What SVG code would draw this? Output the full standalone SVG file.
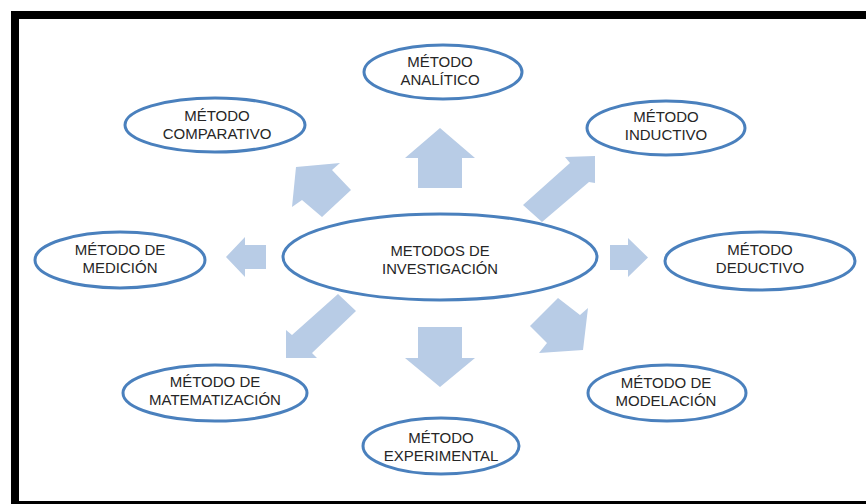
<svg xmlns="http://www.w3.org/2000/svg" width="866" height="504" viewBox="0 0 866 504">
  <style>
    .node ellipse { fill: #ffffff; stroke: #4a80bd; stroke-width: 3; }
    .node text { font-family: "Liberation Sans", Arial, sans-serif; font-size: 15px; fill: #262626; text-anchor: middle; }
    #n-center text { font-size: 14.8px; }
    .frame { fill: #000000; }
    .arrow { fill: #b8cce6; }
  </style>

  <rect width="866" height="504" fill="#ffffff"/>

  <!-- black frame -->
  <rect class="frame" x="11" y="11" width="855" height="8"/>
  <rect class="frame" x="11" y="11" width="8" height="493"/>
  <rect class="frame" x="11" y="501" width="855" height="3"/>

  <g id="connectors" class="arrow">
    <!-- up: analítico -->
    <path d="M418,188 V158 H405 L440,128 L475,158 H462 V188 Z"/>
    <!-- up-left: comparativo -->
    <path d="M351,190 L332,170 L340,163 L296,167 L292,207 L302,200 L322,217 Z"/>
    <!-- up-right: inductivo -->
    <path d="M523,205 L570,163 L565,157 L595,156 L595,183 L589,182 L542,222 Z"/>
    <!-- right: deductivo -->
    <path d="M610,245 H628 V238 L648,257.5 L628,277 V270 H610 Z"/>
    <!-- left: medición -->
    <path d="M266,245 H245 V237 L226,257 L245,277 V269 H266 Z"/>
    <!-- down-left: matematización -->
    <path d="M338,294 L356,311 L312,353 L317,358 L286,358 L286,330 L292,335 Z"/>
    <!-- down: experimental -->
    <path d="M418,327 H462 V358 H475 L440,387 L405,358 H418 Z"/>
    <!-- down-right: modelación -->
    <path d="M558,298 L580,315 L588,308 L583,350 L539,353 L547,343 L530,326 Z"/>
  </g>

  <g id="n-center" class="node">
    <ellipse cx="440" cy="257" rx="157" ry="43"/>
    <text x="440" y="256">METODOS DE</text>
    <text x="440" y="274">INVESTIGACIÓN</text>
  </g>

  <g id="n-analitico" class="node">
    <ellipse cx="443" cy="72" rx="79" ry="27"/>
    <text x="440" y="67">MÉTODO</text>
    <text x="440" y="85">ANALÍTICO</text>
  </g>

  <g id="n-comparativo" class="node">
    <ellipse cx="215" cy="125" rx="90" ry="27"/>
    <text x="217" y="121">MÉTODO</text>
    <text x="217" y="139">COMPARATIVO</text>
  </g>

  <g id="n-inductivo" class="node">
    <ellipse cx="666" cy="128" rx="79" ry="27"/>
    <text x="666" y="122">MÉTODO</text>
    <text x="666" y="140">INDUCTIVO</text>
  </g>

  <g id="n-medicion" class="node">
    <ellipse cx="120" cy="260" rx="85" ry="28"/>
    <text x="120" y="255">MÉTODO DE</text>
    <text x="120" y="273">MEDICIÓN</text>
  </g>

  <g id="n-deductivo" class="node">
    <ellipse cx="760" cy="261" rx="95" ry="29"/>
    <text x="760" y="255">MÉTODO</text>
    <text x="760" y="273">DEDUCTIVO</text>
  </g>

  <g id="n-matematizacion" class="node">
    <ellipse cx="215" cy="393" rx="92" ry="28"/>
    <text x="215" y="387">MÉTODO DE</text>
    <text x="215" y="405">MATEMATIZACIÓN</text>
  </g>

  <g id="n-modelacion" class="node">
    <ellipse cx="667" cy="393" rx="79" ry="28"/>
    <text x="666" y="388">MÉTODO DE</text>
    <text x="666" y="406">MODELACIÓN</text>
  </g>

  <g id="n-experimental" class="node">
    <ellipse cx="441" cy="446" rx="78" ry="28"/>
    <text x="441" y="443">MÉTODO</text>
    <text x="441" y="461">EXPERIMENTAL</text>
  </g>
</svg>
